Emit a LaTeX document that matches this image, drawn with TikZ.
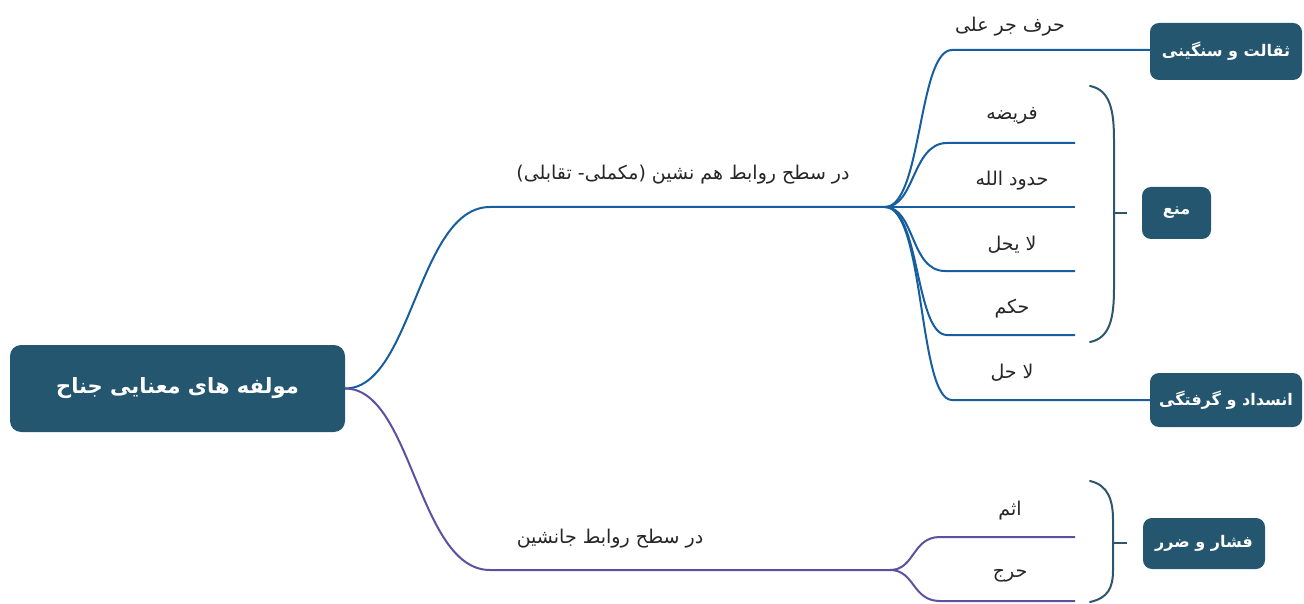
\documentclass[tikz,border=0pt]{standalone}
\usepackage{fontspec}
\newfontfamily\fa[Script=Arabic]{DejaVu Sans}
\TeXXeTstate=1
\definecolor{boxc}{RGB}{36,86,112}
\definecolor{bluec}{RGB}{22,94,158}
\definecolor{purc}{RGB}{94,80,160}
\definecolor{brkc}{RGB}{45,86,110}
\definecolor{txtc}{RGB}{38,38,38}
\tikzset{
  box/.style={fill=boxc, rounded corners=9pt, text=white, inner sep=0pt,
    font=\fa\bfseries\fontsize{16}{19}\selectfont},
  lbl/.style={text=txtc, inner sep=0pt, font=\fa\fontsize{19}{22}\selectfont},
  bline/.style={draw=bluec, line width=2pt},
  pline/.style={draw=purc, line width=2pt},
  brk/.style={draw=brkc, line width=2pt, line cap=round}
}
\begin{document}
\begin{tikzpicture}[x=1pt,y=-1pt]
\useasboundingbox (0,0) rectangle (1304,604);

% central topic and category boxes
\node[box, minimum width=335pt, minimum height=87pt, rounded corners=11pt,
      font=\fa\bfseries\fontsize{21}{25}\selectfont] (root) at (177.5,388.5)
  {\beginR مولفه های معنایی جناح\endR};
\node[box, minimum width=152pt, minimum height=57pt] (thq) at (1226,51.5)
  {\beginR ثقالت و سنگینی\endR};
\node[box, minimum width=69pt, minimum height=52pt] (mana) at (1176.5,213)
  {\beginR منع\endR};
\node[box, minimum width=152pt, minimum height=54pt] (ens) at (1226,400)
  {\beginR انسداد و گرفتگی\endR};
\node[box, minimum width=122pt, minimum height=51pt] (fes) at (1204,543.5)
  {\beginR فشار و ضرر\endR};

% branch points
\coordinate (up) at (490,207);
\coordinate (fork) at (885,207);
\coordinate (down) at (490,570);
\coordinate (fork2) at (890,570);

% leaf corners and ends
\coordinate (c1) at (952,50);
\coordinate (c2) at (947,143);   \coordinate (e2) at (1075,143);
\coordinate (e3) at (1075,207);
\coordinate (c4) at (945,271);   \coordinate (e4) at (1075,271);
\coordinate (c5) at (947,335);   \coordinate (e5) at (1075,335);
\coordinate (c6) at (952,400);
\coordinate (d1) at (940,537);   \coordinate (f1) at (1075,537);
\coordinate (d2) at (940,601);   \coordinate (f2) at (1075,601);

% main branches
\draw[bline] (root.east) .. controls (412,388.5) and (418,207) .. (up) -- (fork);
\draw[pline] (root.east) .. controls (412,388.5) and (418,570) .. (down) -- (fork2);

% upper fan
\draw[bline] (fork) .. controls (922,207) and (918,50) .. (c1) -- (c1 -| thq.west);
\draw[bline] (fork) .. controls (915,207) and (912,143) .. (c2) -- (e2);
\draw[bline] (fork) -- (e3);
\draw[bline] (fork) .. controls (915,207) and (910,271) .. (c4) -- (e4);
\draw[bline] (fork) .. controls (920,207) and (915,335) .. (c5) -- (e5);
\draw[bline] (fork) .. controls (925,207) and (918,400) .. (c6) -- (c6 -| ens.west);

% lower fan
\draw[pline] (fork2) .. controls (915,570) and (912,537) .. (d1) -- (f1);
\draw[pline] (fork2) .. controls (915,570) and (912,601) .. (d2) -- (f2);

% brackets
\coordinate (bt) at (1090,86);  \coordinate (bb) at (1090,342);
\coordinate (bm) at (1114,213); \coordinate (bk) at (1127,213);
\draw[brk] (bt) .. controls (1110,90) and (1114,110) .. (1114,140)
  -- (1114,288) .. controls (1114,318) and (1110,338) .. (bb);
\draw[brk, line cap=butt] (bm) -- (bk);
\coordinate (gt) at (1090,481); \coordinate (gb) at (1090,602);
\coordinate (gm) at (1113,543); \coordinate (gk) at (1127,543);
\draw[brk] (gt) .. controls (1108,485) and (1113,500) .. (1113,520)
  -- (1113,570) .. controls (1113,588) and (1108,598) .. (gb);
\draw[brk, line cap=butt] (gm) -- (gk);

% branch labels
\node[lbl] (l0) at (683,175) {\beginR در سطح روابط هم نشین (مکملی- تقابلی)\endR};
\node[lbl] (l00) at (610,539) {\beginR در سطح روابط جانشین\endR};
\node[lbl] (l1) at (1010,27) {\beginR حرف جر علی\endR};
\node[lbl] (l2) at (1012,116) {\beginR فریضه\endR};
\node[lbl] (l3) at (1012,181) {\beginR حدود الله\endR};
\node[lbl] (l4) at (1012,245) {\beginR لا یحل\endR};
\node[lbl] (l5) at (1012,309) {\beginR حکم\endR};
\node[lbl] (l6) at (1012,373) {\beginR لا حل\endR};
\node[lbl] (l7) at (1010,511) {\beginR اثم\endR};
\node[lbl] (l8) at (1010,576) {\beginR حرج\endR};
\end{tikzpicture}
\end{document}
